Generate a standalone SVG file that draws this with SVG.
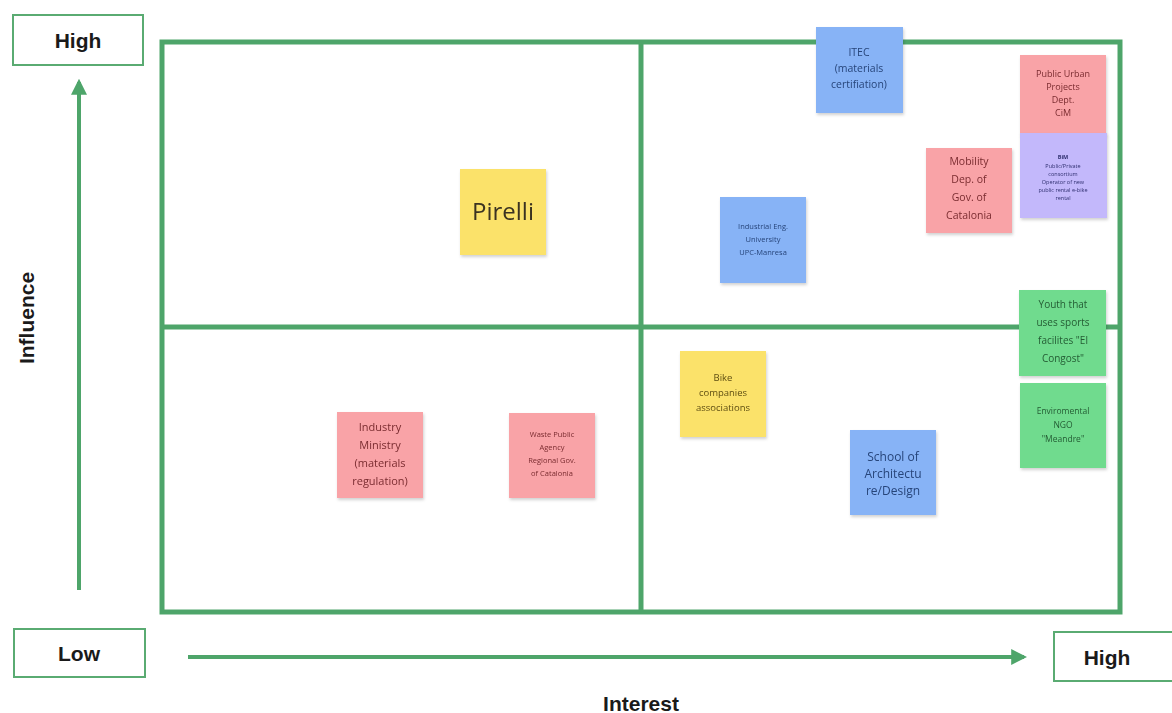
<svg xmlns="http://www.w3.org/2000/svg" width="1172" height="713" viewBox="0 0 1172 713">
<defs>
<filter id="sh" x="-10%" y="-10%" width="125%" height="125%">
<feDropShadow dx="1" dy="2" stdDeviation="1.5" flood-color="#000" flood-opacity="0.18"/>
</filter>
<marker id="ah" viewBox="0 0 10 10" refX="8" refY="5" markerWidth="4" markerHeight="4" orient="auto" markerUnits="strokeWidth">
<path d="M0,0 L10,5 L0,10 z" fill="#4ea56a"/>
</marker>
<style>
.grid{fill:none;stroke:#4ea56a;stroke-width:5}
.axis{stroke:#4ea56a;stroke-width:4;fill:none}
.lbox{fill:#fff;stroke:#5aab72;stroke-width:2}
.ltxt{font-family:"Liberation Sans",Arial,sans-serif;font-weight:bold;font-size:21px;fill:#1a1a1a;text-anchor:middle}
.note{filter:url(#sh)}
.t{font-family:"Open Sans","Liberation Sans",sans-serif;text-anchor:middle}
.yel{fill:#fbe26b}.blu{fill:#87b3f6}.pnk{fill:#f9a3a7}.grn{fill:#70db8e}.pur{fill:#c3b8fb}
.ty{fill:#5e4e12}.tb{fill:#27457a}.tp{fill:#7a2c30}.tg{fill:#245c34}.tu{fill:#303070}
</style>
</defs>

<g id="axes">
<g id="connectors">
<line class="axis" x1="79" y1="590" x2="79" y2="82" marker-end="url(#ah)"/>
<line class="axis" x1="188" y1="657" x2="1024" y2="657" marker-end="url(#ah)"/>
</g>
<g id="high-y"><rect class="lbox" x="13" y="15" width="130" height="50"/><text class="ltxt" x="78" y="48">High</text></g>
<g id="low"><rect class="lbox" x="14" y="629" width="131" height="48"/><text class="ltxt" x="79" y="661">Low</text></g>
<g id="high-x"><rect class="lbox" x="1054" y="632" width="125" height="49"/><text class="ltxt" x="1107" y="665">High</text></g>
<text class="ltxt" transform="translate(34,318) rotate(-90)">Influence</text>
<text class="ltxt" x="641" y="711">Interest</text>
</g>

<g id="grid">
<rect class="grid" x="162" y="42" width="958" height="570"/>
<line class="grid" x1="641" y1="42" x2="641" y2="612"/>
<line class="grid" x1="162" y1="327" x2="1120" y2="327"/>
</g>

<g id="pirelli" class="note"><rect class="yel" x="460" y="169" width="86" height="86"/>
<text class="t ty" x="503" y="220" font-size="24" style="fill:#3a3320">Pirelli</text></g>

<g id="itec" class="note"><rect class="blu" x="816" y="27" width="87" height="86"/>
<text class="t tb" font-size="10.5"><tspan x="859" y="56">ITEC</tspan><tspan x="859" y="72">(materials</tspan><tspan x="859" y="88">certifiation)</tspan></text></g>

<g id="public-urban" class="note"><rect class="pnk" x="1020" y="55" width="86" height="80"/>
<text class="t tp" font-size="9"><tspan x="1063" y="77">Public Urban</tspan><tspan x="1063" y="90">Projects</tspan><tspan x="1063" y="103">Dept.</tspan><tspan x="1063" y="116">CiM</tspan></text></g>

<g id="consortium" class="note"><rect class="pur" x="1020" y="133" width="87" height="85"/>
<text class="t tu" font-size="5.5"><tspan x="1063" y="159" font-weight="bold">BiM</tspan><tspan x="1063" y="168">Public/Private</tspan><tspan x="1063" y="176">consortium</tspan><tspan x="1063" y="184">Operator of new</tspan><tspan x="1063" y="192">public rental e-bike</tspan><tspan x="1063" y="200">rental</tspan></text></g>

<g id="mobility" class="note"><rect class="pnk" x="926" y="148" width="86" height="85"/>
<text class="t tp" font-size="10.5"><tspan x="969" y="165">Mobility</tspan><tspan x="969" y="183">Dep. of</tspan><tspan x="969" y="201">Gov. of</tspan><tspan x="969" y="219">Catalonia</tspan></text></g>

<g id="industrial-eng" class="note"><rect class="blu" x="720" y="197" width="86" height="86"/>
<text class="t tb" font-size="7.5"><tspan x="763" y="229">Industrial Eng.</tspan><tspan x="763" y="242">University</tspan><tspan x="763" y="255">UPC-Manresa</tspan></text></g>

<g id="youth" class="note"><rect class="grn" x="1019" y="290" width="87" height="86"/>
<text class="t tg" font-size="10"><tspan x="1063" y="308">Youth that</tspan><tspan x="1063" y="326">uses sports</tspan><tspan x="1063" y="344">facilites "El</tspan><tspan x="1063" y="362">Congost"</tspan></text></g>

<g id="ngo" class="note"><rect class="grn" x="1020" y="383" width="86" height="85"/>
<text class="t tg" font-size="8.5"><tspan x="1063" y="414">Enviromental</tspan><tspan x="1063" y="428">NGO</tspan><tspan x="1063" y="442">"Meandre"</tspan></text></g>

<g id="bike" class="note"><rect class="yel" x="680" y="351" width="86" height="86"/>
<text class="t ty" font-size="9.5"><tspan x="723" y="381">Bike</tspan><tspan x="723" y="396">companies</tspan><tspan x="723" y="411">associations</tspan></text></g>

<g id="school" class="note"><rect class="blu" x="850" y="430" width="86" height="85"/>
<text class="t tb" font-size="12"><tspan x="893" y="461">School of</tspan><tspan x="893" y="478">Architectu</tspan><tspan x="893" y="495">re/Design</tspan></text></g>

<g id="industry-ministry" class="note"><rect class="pnk" x="337" y="412" width="86" height="86"/>
<text class="t tp" font-size="11"><tspan x="380" y="431">Industry</tspan><tspan x="380" y="449">Ministry</tspan><tspan x="380" y="467">(materials</tspan><tspan x="380" y="485">regulation)</tspan></text></g>

<g id="waste-agency" class="note"><rect class="pnk" x="509" y="413" width="86" height="85"/>
<text class="t tp" font-size="7.5"><tspan x="552" y="437">Waste Public</tspan><tspan x="552" y="450">Agency</tspan><tspan x="552" y="463">Regional Gov.</tspan><tspan x="552" y="476">of Catalonia</tspan></text></g>
</svg>
